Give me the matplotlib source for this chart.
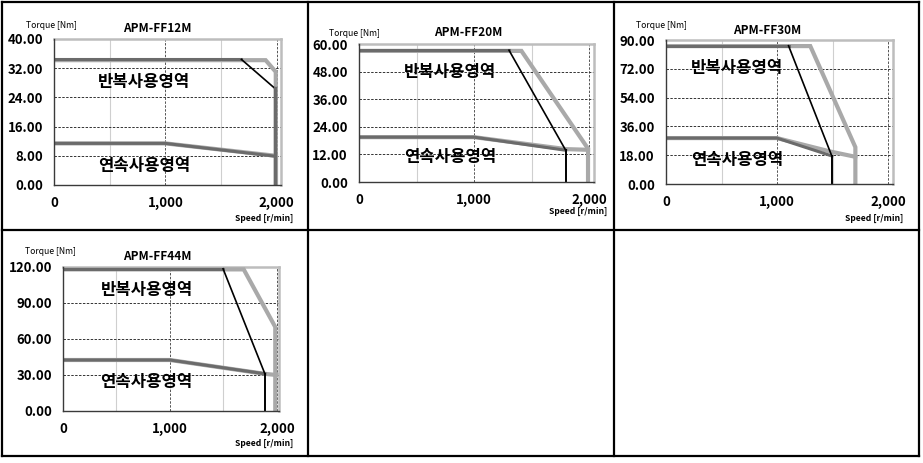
import matplotlib
matplotlib.use("Agg")
import matplotlib.pyplot as plt
from matplotlib.lines import Line2D

plt.rcParams['font.family'] = ['Noto Sans CJK KR', 'DejaVu Sans']

W, H = 923, 463

# ---------------- data ----------------
titles = ["APM-FF12M", "APM-FF20M", "APM-FF30M", "APM-FF44M"]
y_maxes = [40, 60, 90, 120]
y_steps = [8, 12, 18, 30]
x_ticks = [0, 1000, 2000]
x_tick_labels = ["0", "1,000", "2,000"]
label_peak = "반복사용영역"
label_cont = "연속사용영역"

# high-voltage (light grey) peak curve
peak_hi_x = [[0, 1900, 1991, 1991], [0, 1412, 1991, 1991], [0, 1300, 1706, 1706], [0, 1690, 1985, 1985]]
peak_hi_y = [[34.2, 34.2, 31.0, 0], [57.0, 57.0, 14.5, 0], [86.2, 86.2, 23.0, 0], [118.0, 118.0, 70.0, 0]]
# high-voltage (light grey) continuous curve
cont_hi_x = [[0, 1000, 1991], [0, 1000, 1800, 1991], [0, 1000, 1480, 1706], [0, 1000, 1885, 1995]]
cont_hi_y = [[11.4, 11.4, 8.0], [19.5, 19.5, 14.3, 14.0], [28.7, 28.7, 20.3, 17.0], [42.5, 42.5, 31.0, 30.0]]
# low-voltage peak: flat part (dark grey) and droop part (black)
peak_lo_flat_x = [[0, 1683], [0, 1304], [0, 1104], [0, 1497]]
peak_lo_flat_y = [[34.4, 34.4], [57.3, 57.3], [86.4, 86.4], [118.5, 118.5]]
peak_lo_drop_x = [[1683, 1982, 1982], [1304, 1797, 1797], [1104, 1495, 1495], [1497, 1888, 1888]]
peak_lo_drop_y = [[34.4, 26.5, 0], [57.3, 13.8, 0], [86.4, 17.3, 0], [118.5, 31.0, 0]]
# low-voltage continuous (dark grey)
cont_lo_x = [[0, 1000, 1982], [0, 1000, 1797], [0, 1000, 1495], [0, 1000, 1888]]
cont_lo_y = [[11.4, 11.4, 7.9], [19.5, 19.5, 13.8], [28.7, 28.7, 17.5], [42.5, 42.5, 31.0]]

# ---------------- layout (pixels) ----------------
# left, right, top, bottom, x-axis max
boxes = [(54, 281, 39, 185, 2038), (359, 594, 44, 182, 2043),
         (666, 893, 40, 184, 2045), (63, 279, 267, 411, 2020)]
title_pos = [(157, 29), (468, 33), (767, 30), (157, 256)]
torque_pos = [(26, 26), (329, 33), (636, 25), (25, 252)]
speed_pos = [(293, 218), (607, 211), (903, 218), (293, 443)]
peak_txt_pos = [(144, 82), (450, 72), (737, 68), (147, 290)]
cont_txt_pos = [(144, 166), (450, 157), (737, 160), (146, 382)]

LIGHT = "#a9a9a9"
DARK = "#6b6b6b"

fig = plt.figure(figsize=(W / 100, H / 100), dpi=100)
fig.patch.set_facecolor("white")


def fx(px):
    return px / W


def fy(py):
    return 1 - py / H


# table borders
lw_border = 1.6
for x in [1.5, 308, 614]:
    fig.add_artist(Line2D([fx(x), fx(x)], [fy(1.5), fy(456)], color="black", lw=lw_border))
fig.add_artist(Line2D([fx(919), fx(919)], [fy(1.5), fy(456)], color="black", lw=lw_border))
for y in [1.5, 230, 456]:
    fig.add_artist(Line2D([fx(1.5), fx(919)], [fy(y), fy(y)], color="black", lw=lw_border))

for i in range(4):
    l, r, t, b, xmax = boxes[i]
    ax = fig.add_axes([fx(l), fy(b), (r - l) / W, (b - t) / H])
    ymax = y_maxes[i]
    ax.set_xlim(0, xmax)
    ax.set_ylim(0, ymax)

    # grid
    for gx in [500, 1500]:
        ax.axvline(gx, color="#cfcfcf", lw=0.8, zorder=1)
    for gx in [1000, 2000]:
        ax.axvline(gx, color="#555555", lw=0.7, ls=(0, (2.5, 1.5)), zorder=1)
    yt = [k * y_steps[i] for k in range(int(ymax / y_steps[i]) + 1)]
    for gy in yt[1:-1]:
        ax.axhline(gy, color="#333333", lw=0.7, ls=(0, (2.5, 1.5)), zorder=1)

    # curves
    ax.plot(peak_hi_x[i], peak_hi_y[i], color=LIGHT, lw=3.0, solid_joinstyle="miter", zorder=3)
    ax.plot(cont_hi_x[i], cont_hi_y[i], color=LIGHT, lw=3.0, zorder=3)
    if i == 0:
        ax.plot(cont_hi_x[i][-1:] * 2, [cont_hi_y[i][-1], 0], color=LIGHT, lw=3.0, zorder=3)
    ax.plot(peak_lo_flat_x[i], peak_lo_flat_y[i], color=DARK, lw=2.2, zorder=4)
    ax.plot(cont_lo_x[i], cont_lo_y[i], color=DARK, lw=2.2, zorder=4)
    ax.plot(peak_lo_drop_x[i][:2], peak_lo_drop_y[i][:2], color="black", lw=1.2, zorder=5)
    if i == 0:
        ax.plot(peak_lo_drop_x[i][1:], peak_lo_drop_y[i][1:], color=DARK, lw=2.4, zorder=5)
    else:
        ax.plot(peak_lo_drop_x[i][1:], peak_lo_drop_y[i][1:], color="black", lw=1.4, zorder=5)

    # axes styling
    ax.set_xticks(x_ticks)
    ax.set_xticklabels(x_tick_labels)
    ax.set_yticks(yt)
    ax.set_yticklabels([f"{v:.2f}" for v in yt])
    ax.tick_params(length=0, labelsize=9.5)
    ax.tick_params(axis="y", pad=8)
    ax.tick_params(axis="x", pad=8)
    for lab in ax.get_xticklabels() + ax.get_yticklabels():
        lab.set_fontweight("bold")
    for s in ["left", "bottom"]:
        ax.spines[s].set_color("#3a3a3a")
        ax.spines[s].set_linewidth(1.0)
        ax.spines[s].set_zorder(6)
    for s in ["top", "right"]:
        ax.spines[s].set_color("#bdbdbd")
        ax.spines[s].set_linewidth(1.8)

    # texts
    tx, ty = title_pos[i]
    fig.text(fx(tx), fy(ty), titles[i], ha="center", va="center", fontsize=8.5, fontweight="bold")
    tx, ty = torque_pos[i]
    fig.text(fx(tx), fy(ty), "Torque [Nm]", ha="left", va="center", fontsize=6.2)
    tx, ty = speed_pos[i]
    fig.text(fx(tx), fy(ty), "Speed [r/min]", ha="right", va="center", fontsize=6.2, fontweight="bold")
    tx, ty = peak_txt_pos[i]
    fig.text(fx(tx), fy(ty), label_peak, ha="center", va="center", fontsize=12, fontweight="bold", zorder=10)
    tx, ty = cont_txt_pos[i]
    fig.text(fx(tx), fy(ty), label_cont, ha="center", va="center", fontsize=12, fontweight="bold", zorder=10)

fig.savefig("out.png", dpi=100, facecolor="white")
